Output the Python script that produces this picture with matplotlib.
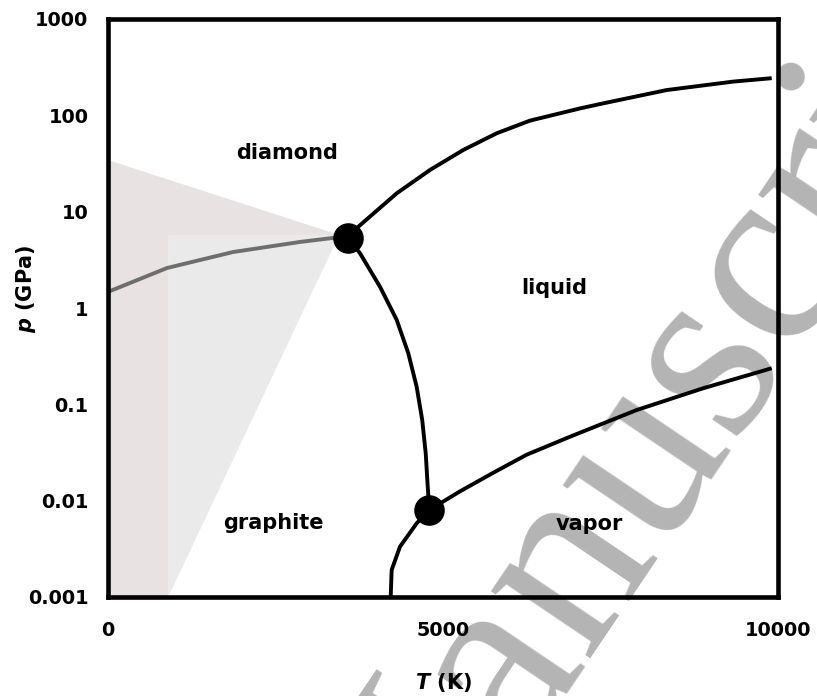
import numpy as np
import matplotlib
matplotlib.use("Agg")
import matplotlib.pyplot as plt
from matplotlib.ticker import FixedLocator, NullFormatter

plt.rcParams['font.family'] = ['DejaVu Sans']
plt.rcParams['font.weight'] = 'bold'
plt.rcParams['mathtext.fontset'] = 'custom'
plt.rcParams['mathtext.it'] = 'DejaVu Sans:italic:bold'

# phase boundaries of carbon, T in K, p in GPa
T_diamond_liquid = [3587, 3736, 4309, 4806, 5303, 5801, 6298, 7045, 7343, 8339, 9333, 9906]
p_diamond_liquid = [5.29, 6.98, 15.5, 27.1, 43.7, 65.1, 88.1, 118, 131, 183, 224, 243]

T_graphite_liquid = [3587, 3761, 4060, 4309, 4482, 4607, 4690, 4742, 4772, 4795]
p_graphite_liquid = [5.29, 3.70, 1.66, 0.752, 0.339, 0.152, 0.0687, 0.0310, 0.0140, 0.0080]

T_liquid_vapor = [4795, 5254, 5751, 6249, 6895, 7891, 8885, 9906]
p_liquid_vapor = [0.0080, 0.0125, 0.0195, 0.0300, 0.0461, 0.0873, 0.147, 0.237]

T_graphite_vapor = [4795, 4607, 4358, 4234, 4219]
p_graphite_vapor = [0.0080, 0.00582, 0.00333, 0.00191, 0.00100]

T_graphite_diamond = [0, 880, 1866, 2866, 3418, 3560]
p_graphite_diamond = [1.47, 2.60, 3.81, 4.85, 5.40, 5.35]

T_triple = [3587, 4795]
p_triple = [5.29, 0.0080]

# shaded regions
T_shade_a = [0, 3450, 900, 900, 0]
p_shade_a = [34.4, 5.73, 5.73, 0.001, 0.001]
T_shade_b = [900, 3450, 900]
p_shade_b = [5.73, 5.73, 0.001]

region_names = ['diamond', 'liquid', 'graphite', 'vapor']
region_T = [2672, 6657, 2463, 7187]
region_p = [40.6, 1.6, 0.0059, 0.0057]

y_ticks = [0.001, 0.01, 0.1, 1, 10, 100, 1000]
y_labels = ['0.001', '0.01', '0.1', '1', '10', '100', '1000']
x_ticks = [0, 5000, 10000]
x_labels = ['0', '5000', '10000']

W, H = 817, 696
fig = plt.figure(figsize=(W / 100, H / 100), dpi=100)
fig.patch.set_facecolor('white')

# watermark behind everything
fig.text(390 / W, 1 - 945 / H, 'Manuscript', family='Liberation Serif', weight='normal',
         fontsize=188, color='#b4b4b4', rotation=56, rotation_mode='anchor',
         ha='left', va='baseline', zorder=-5)

ax = fig.add_axes([108 / W, 1 - 597 / H, 670 / W, 578 / H])
ax.patch.set_alpha(0)
ax.set_yscale('log')
ax.set_xlim(0, 10000)
ax.set_ylim(0.001, 1000)
ax.set_axisbelow(True)

ax.fill(T_shade_a, p_shade_a, color='#d3cbc9', alpha=0.52, lw=0, zorder=1)
ax.fill(T_shade_b, p_shade_b, color='#d8d8d8', alpha=0.52, lw=0, zorder=1)

ax.plot(T_graphite_diamond, p_graphite_diamond, color='#6e6e6e', lw=2.8, zorder=2,
        solid_capstyle='butt')
for T, p in [(T_diamond_liquid, p_diamond_liquid), (T_graphite_liquid, p_graphite_liquid),
             (T_liquid_vapor, p_liquid_vapor), (T_graphite_vapor, p_graphite_vapor)]:
    ax.plot(T, p, color='black', lw=2.8, zorder=3, solid_capstyle='butt', solid_joinstyle='round')
ax.plot(T_triple, p_triple, 'o', color='black', ms=21, zorder=4)

for name, T, p in zip(region_names, region_T, region_p):
    ax.text(T, p, name, fontsize=15, fontweight='bold', ha='center', va='center', zorder=5)

for s in ax.spines.values():
    s.set_linewidth(3.3)
    s.set_zorder(6)

ax.yaxis.set_major_locator(FixedLocator(y_ticks))
ax.set_yticklabels(y_labels)
ax.yaxis.set_minor_locator(FixedLocator([1]))
ax.yaxis.set_minor_formatter(NullFormatter())
ax.xaxis.set_major_locator(FixedLocator(x_ticks))
ax.set_xticklabels(x_labels)
ax.xaxis.set_minor_locator(FixedLocator([5000]))
ax.xaxis.set_minor_formatter(NullFormatter())

ax.tick_params(which='major', length=0, labelsize=13.9)
ax.tick_params(axis='y', which='major', pad=14)
ax.tick_params(axis='x', which='major', pad=17)
ax.tick_params(which='minor', direction='inout', length=21, width=2.2, color='black')

fig.text(443 / W, 1 - 683 / H, r'$T$ (K)', fontsize=15, fontweight='bold', ha='center', va='center')
fig.text(26 / W, 1 - 289 / H, r'$p$ (GPa)', fontsize=15, fontweight='bold', ha='center', va='center',
         rotation=90)

fig.savefig('out.png', dpi=100)
